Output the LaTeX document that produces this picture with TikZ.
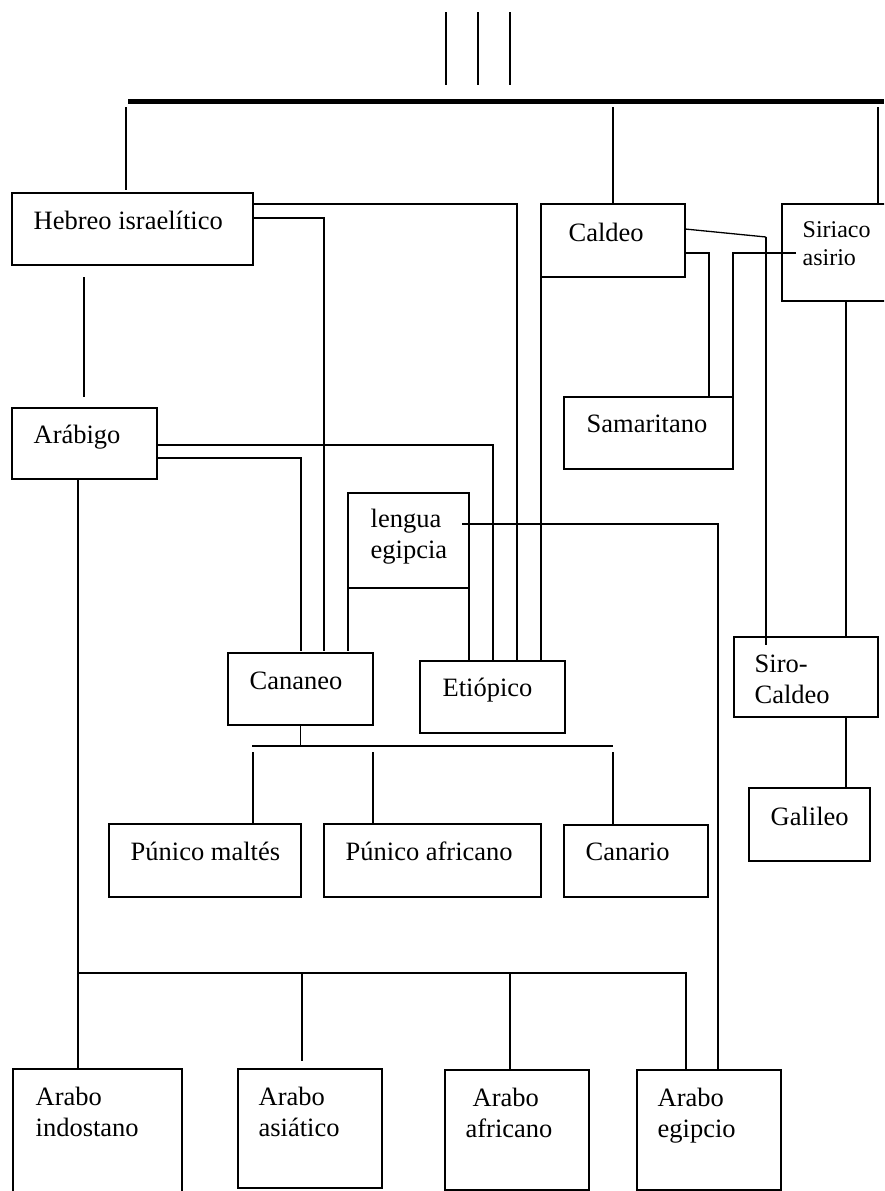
\documentclass[tikz,border=0pt]{standalone}
\usepackage{fontspec}
\setmainfont{Liberation Serif}
\usetikzlibrary{fit,calc}
\newcommand{\boxfont}{\fontsize{26.5}{31}\selectfont}
\newcommand{\smallboxfont}{\fontsize{24}{28}\selectfont}
\tikzstyle{box}=[draw,line width=1.8pt,inner sep=0pt,outer sep=0pt]
\tikzstyle{lbl}=[anchor=base west,inner sep=0pt,align=left,font=\boxfont]
\tikzstyle{link}=[line width=1.3pt]

\begin{document}
\begin{tikzpicture}[x=1pt,y=-1pt,link]

	\useasboundingbox (0,0) rectangle (884,1191);
	\clip (0,0) rectangle (884,1191);

	\foreach \x in {446,478,510}
		\draw (\x,12) -- (\x,85);
	\coordinate (barL) at (128,101);
	\coordinate (barR) at (884,101);
	\draw[line width=5pt] (barL) -- (barR);

	\node[box,fit={(12,193) (253,265)}] (hebreo) {};
	\node[box,fit={(12,408) (157,479)}] (arabigo) {};
	\node[box,fit={(541,204) (685,277)}] (caldeo) {};
	\node[box,fit={(782,204) (892,301)}] (siriaco) {};
	\node[box,fit={(564,397) (733,469)}] (samaritano) {};
	\node[box,fit={(348,493) (469,588)}] (lengua) {};
	\node[box,fit={(228,653) (373,725)}] (cananeo) {};
	\node[box,fit={(420,661) (565,733)}] (etiopico) {};
	\node[box,fit={(734,637) (878,717)}] (sirocaldeo) {};
	\node[box,fit={(749,788) (870,861)}] (galileo) {};
	\node[box,fit={(109,824) (301,897)}] (punmaltes) {};
	\node[box,fit={(324,824) (541,897)}] (punafricano) {};
	\node[box,fit={(564,825) (708,897)}] (canario) {};
	\node[box,fit={(13,1069) (182,1210)}] (indostano) {};
	\node[box,fit={(238,1069) (382,1188)}] (asiatico) {};
	\node[box,fit={(445,1070) (589,1190)}] (africano) {};
	\node[box,fit={(637,1070) (781,1190)}] (egipcio) {};

	\node[lbl] (hebreo-t) at (33,229) {Hebreo israelítico};
	\node[lbl] (arabigo-t) at (33,443) {Arábigo};
	\node[lbl] (caldeo-t) at (568,241) {Caldeo};
	\node[lbl,font=\smallboxfont] (siriaco-t) at (802,265) {Siriaco\\asirio};
	\node[lbl] (samaritano-t) at (586,432) {Samaritano};
	\node[lbl] (lengua-t) at (370,558) {lengua\\egipcia};
	\node[lbl] (cananeo-t) at (249,689) {Cananeo};
	\node[lbl] (etiopico-t) at (442,696) {Etiópico};
	\node[lbl] (sirocaldeo-t) at (754,703) {Siro-\\Caldeo};
	\node[lbl] (galileo-t) at (770,825) {Galileo};
	\node[lbl] (punmaltes-t) at (130,860) {Púnico maltés};
	\node[lbl] (punafricano-t) at (345,860) {Púnico africano};
	\node[lbl] (canario-t) at (585,860) {Canario};
	\node[lbl] (indostano-t) at (35,1136) {Arabo\\indostano};
	\node[lbl] (asiatico-t) at (258,1136) {Arabo\\asiático};
	\node[lbl] (africano-t) at (465,1137) {\hspace*{7pt}Arabo\\africano};
	\node[lbl] (egipcio-t) at (657,1137) {Arabo\\egipcio};

	\draw[shorten >=3pt] (126,107) -- (hebreo.north -| 126,0);
	\draw (613,107) -- (caldeo.north -| 613,0);
	\draw (878,107) -- (siriaco.north -| 878,0);
	\draw[shorten <=12pt,shorten >=11pt] (hebreo.south -| 84,0) -- (arabigo.north -| 84,0);

	\draw ([yshift=-11pt]hebreo.north east) -| (etiopico.north -| 517,0);
	\draw[shorten >=2pt] ([yshift=-25pt]hebreo.north east) -| (cananeo.north -| 324,0);
	\draw ([yshift=-37pt]arabigo.north east) -| (etiopico.north -| 493,0);
	\draw[shorten >=2pt] ([yshift=-50pt]arabigo.north east) -| (cananeo.north -| 301,0);
	\draw (arabigo.south -| 78,0) -- (indostano.north -| 78,0);

	\draw (caldeo.south west) -- (caldeo.south west |- etiopico.north);
	\draw ([yshift=-49pt]caldeo.north east) -| (samaritano.north -| 709,0);
	\draw ([xshift=14pt,yshift=-49pt]siriaco.north west) -| (samaritano.north east);
	\coordinate (bend) at (766,237);
	\draw ([yshift=-25pt]caldeo.north east) -- (bend);
	\draw (bend) -- (sirocaldeo.north -| bend) -- ++(0,8);
	\draw (siriaco.south -| 846,0) -- (sirocaldeo.north -| 846,0);
	\draw (sirocaldeo.south -| 846,0) -- (galileo.north -| 846,0);

	\draw[shorten >=2pt] (lengua.south west) -- (lengua.south west |- cananeo.north);
	\draw (lengua.south east) -- (lengua.south east |- etiopico.north);
	\draw ([xshift=-7pt,yshift=-31pt]lengua.north east) -| (egipcio.north -| 718,0);

	\coordinate (cbarL) at (252,746);
	\coordinate (cbarR) at (613,746);
	\draw (cananeo.south) -- (cananeo.south |- cbarL);
	\draw (cbarL) -- (cbarR);
	\foreach \n/\x in {punmaltes/253,punafricano/373,canario/613}
		\draw (\x,752) -- (\n.north -| \x,0);

	\coordinate (abar) at (78,973);
	\draw (abar) -| (egipcio.north -| 686,0);
	\draw[shorten >=8pt] (abar -| 302,0) -- (asiatico.north -| 302,0);
	\draw (abar -| 510,0) -- (africano.north -| 510,0);

\end{tikzpicture}
\end{document}
